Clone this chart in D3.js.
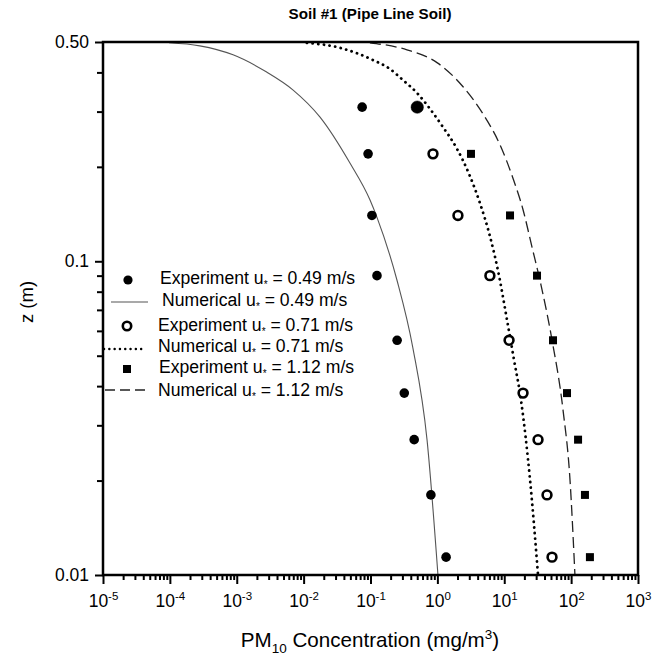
<!DOCTYPE html>
<html>
<head>
<meta charset="utf-8">
<script src="https://cdn.jsdelivr.net/npm/d3@7"></script>
<style>
  body { margin: 0; background: #fff; }
  svg { display: block; font-family: "Liberation Sans", Arial, sans-serif; }
</style>
</head>
<body>
<svg id="chart" width="666" height="659"></svg>
<script>
// Sampling heights of the measured profiles (m)
const expHeights = [0.31, 0.22, 0.14, 0.09, 0.056, 0.038, 0.027, 0.018, 0.0114];

// Measured PM10 concentration (mg/m^3) at each height, one array per friction velocity
const exp049 = [0.075, 0.092, 0.105, 0.125, 0.25, 0.32, 0.45, 0.80, 1.35];
const exp071 = [0.50, 0.86, 2.03, 6.1, 11.8, 19.1, 32, 43.6, 51.8];
const exp112 = [null, 3.18, 12.2, 30.9, 53.6, 86.8, 127, 161, 191];

// Numerical profiles: concentration (mg/m^3) and height (m)
const num049C = [9.7e-5, 2.8e-4, 8.8e-4, 2.8e-3, 6.9e-3, 0.0176, 0.049, 0.098, 0.125, 0.249, 0.43, 0.70, 1.02];
const num049Z = [0.497, 0.486, 0.455, 0.401, 0.352, 0.288, 0.206, 0.157, 0.138, 0.087, 0.053, 0.027, 0.01];

const num071C = [0.0112, 0.035, 0.109, 0.196, 0.306, 0.496, 0.776, 1.21, 1.97, 2.97, 4.34, 6.12, 8.35, 11.0, 14.0, 17.8, 24.3, 32.0];
const num071Z = [0.497, 0.479, 0.438, 0.410, 0.378, 0.344, 0.306, 0.268, 0.228, 0.190, 0.153, 0.120, 0.090, 0.065, 0.0485, 0.0361, 0.0201, 0.01];

const num112C = [0.098, 0.351, 1.0, 2.42, 4.81, 8.64, 13.5, 19.1, 26.0, 35.4, 51.8, 75.6, 96.2, 114];
const num112Z = [0.497, 0.472, 0.429, 0.360, 0.295, 0.235, 0.184, 0.146, 0.111, 0.0841, 0.0561, 0.0336, 0.0201, 0.01];

// Axis ticks
const xMajor = [1e-5, 1e-4, 1e-3, 1e-2, 1e-1, 1e0, 1e1, 1e2, 1e3];
const xExponents = ["-5", "-4", "-3", "-2", "-1", "0", "1", "2", "3"];
const yMajor = [0.5, 0.1, 0.01];
const yMajorLabels = ["0.50", "0.1", "0.01"];

const title = "Soil #1 (Pipe Line Soil)";
const legendSpeeds = ["0.49", "0.49", "0.71", "0.71", "1.12", "1.12"];

const svg = d3.select("#chart");
const M = { left: 103, top: 42, right: 638, bottom: 575 };

const x = d3.scaleLog().domain([1e-5, 1e3]).range([M.left, M.right]);
const y = d3.scaleLog().domain([0.01, 0.5]).range([M.bottom, M.top]);

// Minor tick positions for each decade
const xMinor = [];
for (let e = -5; e < 3; e++) for (let k = 2; k <= 9; k++) xMinor.push(k * Math.pow(10, e));
const yMinor = [];
for (let e = -2; e < 0; e++) for (let k = 2; k <= 9; k++) {
  const v = k * Math.pow(10, e);
  if (v < 0.5) yMinor.push(v);
}

// Title
svg.append("text")
  .attr("x", 370).attr("y", 19)
  .attr("text-anchor", "middle")
  .attr("font-size", 15.2).attr("font-weight", "bold")
  .text(title);

// Clip for curves
svg.append("clipPath").attr("id", "plotClip")
  .append("rect").attr("x", M.left).attr("y", M.top)
  .attr("width", M.right - M.left).attr("height", M.bottom - M.top);

// Numerical curves
const line = d3.line()
  .x(d => x(d[0])).y(d => y(d[1]))
  .curve(d3.curveMonotoneX);

const curves = svg.append("g").attr("clip-path", "url(#plotClip)");
curves.append("path")
  .datum(num049C.map((c, i) => [c, num049Z[i]]))
  .attr("d", line).attr("fill", "none")
  .attr("stroke", "#555").attr("stroke-width", 1.1);
curves.append("path")
  .datum(num071C.map((c, i) => [c, num071Z[i]]))
  .attr("d", line).attr("fill", "none")
  .attr("stroke", "#000").attr("stroke-width", 2.8)
  .attr("stroke-linecap", "round")
  .attr("stroke-dasharray", "0.1 5.6");
curves.append("path")
  .datum(num112C.map((c, i) => [c, num112Z[i]]))
  .attr("d", line).attr("fill", "none")
  .attr("stroke", "#222").attr("stroke-width", 1.3)
  .attr("stroke-dasharray", "11 5");

// Experimental points
const pts049 = exp049.map((c, i) => [c, expHeights[i]]);
const pts071 = exp071.map((c, i) => [c, expHeights[i]]);
const pts112 = exp112.map((c, i) => [c, expHeights[i]]).filter(d => d[0] != null);

svg.append("g").selectAll("circle").data(pts049).join("circle")
  .attr("cx", d => x(d[0])).attr("cy", d => y(d[1]))
  .attr("r", 4.8).attr("fill", "#000");

svg.append("g").selectAll("circle").data(pts071).join("circle")
  .attr("cx", d => x(d[0])).attr("cy", d => y(d[1]))
  .attr("r", (d, i) => i === 0 ? 6.2 : 4.4)
  .attr("fill", (d, i) => i === 0 ? "#000" : "#fff")
  .attr("stroke", "#000").attr("stroke-width", (d, i) => i === 0 ? 0.5 : 2.6);

svg.append("g").selectAll("rect").data(pts112).join("rect")
  .attr("x", d => x(d[0]) - 4).attr("y", d => y(d[1]) - 4)
  .attr("width", 8).attr("height", 8).attr("fill", "#000");

// Axes
const yAxisG = svg.append("g").attr("transform", `translate(${M.left},0)`);
yAxisG.call(d3.axisLeft(y).tickValues(yMinor).tickSize(6).tickFormat(""));
yAxisG.call(g => g.select(".domain").remove());
const yMajG = svg.append("g").attr("transform", `translate(${M.left},0)`)
  .call(d3.axisLeft(y).tickValues(yMajor).tickSize(8).tickPadding(6)
    .tickFormat((d, i) => yMajorLabels[i]));
yMajG.select(".domain").remove();
yMajG.selectAll("text").attr("font-size", 17.5).attr("fill", "#000")
  .attr("font-family", "Liberation Sans, Arial, sans-serif");

const xAxisG = svg.append("g").attr("transform", `translate(0,${M.bottom})`);
xAxisG.call(d3.axisBottom(x).tickValues(xMinor).tickSize(5).tickFormat(""));
xAxisG.select(".domain").remove();
const xMajG = svg.append("g").attr("transform", `translate(0,${M.bottom})`)
  .call(d3.axisBottom(x).tickValues(xMajor).tickSize(9).tickFormat(""));
xMajG.select(".domain").remove();
svg.selectAll(".tick line").attr("stroke-width", 2);

xMajG.selectAll(".tick text").each(function(d, i) {
  const t = d3.select(this)
    .attr("y", 20).attr("dy", "0.71em")
    .attr("font-size", 17.5).attr("fill", "#000")
    .attr("font-family", "Liberation Sans, Arial, sans-serif");
  t.append("tspan").text("10");
  t.append("tspan").attr("font-size", 11.5).attr("dy", -7).text(xExponents[i]);
});

// Frame
svg.append("rect")
  .attr("x", M.left).attr("y", M.top)
  .attr("width", M.right - M.left).attr("height", M.bottom - M.top)
  .attr("fill", "none").attr("stroke", "#000").attr("stroke-width", 2.5);

// Axis titles
const xl = svg.append("text")
  .attr("x", 370).attr("y", 647)
  .attr("text-anchor", "middle").attr("font-size", 20.6);
xl.append("tspan").text("PM");
xl.append("tspan").attr("font-size", 13.5).attr("dy", 6).text("10");
xl.append("tspan").attr("dy", -6).text(" Concentration (mg/m");
xl.append("tspan").attr("font-size", 13.5).attr("dy", -8).text("3");
xl.append("tspan").attr("dy", 8).text(")");

svg.append("text")
  .attr("transform", "translate(33,302) rotate(-90)")
  .attr("text-anchor", "middle").attr("font-size", 18.5)
  .text("z (m)");

// Legend
const legendRows = [
  { y: 278, tx: 160, label: "Experiment", kind: "dot" },
  { y: 300, tx: 162, label: "Numerical", kind: "solid" },
  { y: 325, tx: 158, label: "Experiment", kind: "ring" },
  { y: 346, tx: 158, label: "Numerical", kind: "dotted" },
  { y: 367, tx: 159, label: "Experiment", kind: "square" },
  { y: 390, tx: 158, label: "Numerical", kind: "dashed" }
];
const lg = svg.append("g");
legendRows.forEach((r, i) => {
  if (r.kind === "dot") {
    lg.append("circle").attr("cx", 128).attr("cy", r.y + 2).attr("r", 4.6).attr("fill", "#000");
  } else if (r.kind === "ring") {
    lg.append("circle").attr("cx", 127).attr("cy", r.y + 1).attr("r", 4.2)
      .attr("fill", "#fff").attr("stroke", "#000").attr("stroke-width", 2.6);
  } else if (r.kind === "square") {
    lg.append("rect").attr("x", 123).attr("y", r.y - 2).attr("width", 8).attr("height", 8).attr("fill", "#000");
  } else if (r.kind === "solid") {
    lg.append("line").attr("x1", 111).attr("x2", 148).attr("y1", r.y + 2).attr("y2", r.y + 2)
      .attr("stroke", "#555").attr("stroke-width", 1.1);
  } else if (r.kind === "dotted") {
    lg.append("line").attr("x1", 104).attr("x2", 146).attr("y1", r.y + 3).attr("y2", r.y + 3)
      .attr("stroke", "#000").attr("stroke-width", 2.4).attr("stroke-linecap", "round")
      .attr("stroke-dasharray", "0.1 5.2");
  } else {
    lg.append("line").attr("x1", 105).attr("x2", 147).attr("y1", r.y).attr("y2", r.y)
      .attr("stroke", "#222").attr("stroke-width", 1.3).attr("stroke-dasharray", "10 5");
  }
  const t = lg.append("text").attr("x", r.tx).attr("y", r.y + 6).attr("font-size", 17.6);
  t.append("tspan").text(r.label + " u");
  t.append("tspan").attr("font-size", 10).attr("dy", 4).text("*");
  t.append("tspan").attr("dy", -4).text(" = " + legendSpeeds[i] + " m/s");
});
</script>
</body>
</html>
